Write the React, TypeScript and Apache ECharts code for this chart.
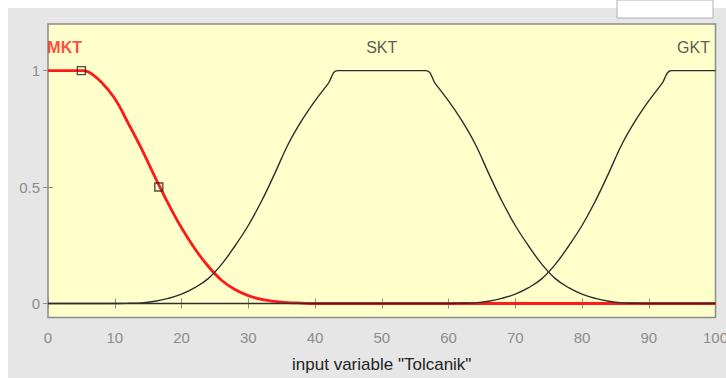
import React, { useEffect, useRef } from "react";
import * as echarts from "echarts";

// Membership functions of input variable "Tolcanik"
const xTicks = [0, 10, 20, 30, 40, 50, 60, 70, 80, 90, 100];
const yTicks = [0, 0.5, 1];

const mktX = [0, 2, 4, 5, 6, 8, 10, 12, 14, 16, 18, 20, 22, 24, 26, 28, 30, 32, 34, 36, 38, 40, 100];
const mktY = [1, 1, 1, 1, 0.995, 0.95, 0.88, 0.775, 0.665, 0.545, 0.43, 0.325, 0.235, 0.16, 0.1, 0.06, 0.034, 0.018, 0.009, 0.004, 0.002, 0, 0];

const sktX = [0, 10, 12, 14, 16, 18, 20, 22, 24, 26, 28, 30, 32, 34, 36, 38, 40, 42, 43.4, 56.6, 58, 60, 62, 64, 66, 68, 70, 72, 74, 76, 78, 80, 82, 84, 86, 88, 90, 100];
const sktY = [0, 0, 0.001, 0.003, 0.01, 0.022, 0.04, 0.068, 0.107, 0.168, 0.247, 0.335, 0.44, 0.56, 0.685, 0.785, 0.87, 0.945, 1, 1, 0.945, 0.87, 0.785, 0.685, 0.56, 0.44, 0.335, 0.247, 0.168, 0.107, 0.068, 0.04, 0.022, 0.01, 0.003, 0.001, 0, 0];

const gktX = [0, 60, 62, 64, 66, 68, 70, 72, 74, 76, 78, 80, 82, 84, 86, 88, 90, 92, 93.4, 100];
const gktY = [0, 0, 0.001, 0.003, 0.01, 0.022, 0.04, 0.068, 0.107, 0.168, 0.247, 0.335, 0.44, 0.56, 0.685, 0.785, 0.87, 0.945, 1, 1];

// parameter handles of the selected function (MKT)
const handleX = [5, 16.6];
const handleY = [1, 0.5];

const mfNames = ["MKT", "SKT", "GKT"];
const mfLabelX = [2.5, 50, 96.7];
const mfLabelY = 1.1;

const zip = (xs: number[], ys: number[]) => xs.map((x, i) => [x, ys[i]]);

export default function App() {
  const ref = useRef<HTMLDivElement>(null);

  useEffect(() => {
    if (!ref.current) return;
    const chart = echarts.init(ref.current, undefined, { renderer: "svg" });
    const font = "Liberation Sans, Arial, sans-serif";
    const tickColor = "#8c8c8c";

    const xAxisBase = {
      type: "value",
      min: xTicks[0],
      max: xTicks[xTicks.length - 1],
      interval: 10,
      axisLine: { show: false },
      axisTick: { show: true, inside: true, length: 5, lineStyle: { color: tickColor, width: 1 } },
      splitLine: { show: false },
    };
    const yAxisBase = {
      type: "value",
      min: -0.06,
      max: 1.2,
      axisLine: { show: false },
      axisTick: { show: true, inside: true, length: 5, customValues: yTicks, lineStyle: { color: tickColor, width: 1 } },
      splitLine: { show: false },
    };

    chart.setOption({
      animation: false,
      backgroundColor: "#ffffff",
      graphic: [
        { type: "rect", z: -10, shape: { x: 8, y: 8, width: 718, height: 370 }, style: { fill: "#e6e6e6" }, silent: true },
        { type: "rect", z: -9, shape: { x: 617, y: 0, width: 96, height: 18 }, style: { fill: "#ffffff", stroke: "#b0b0b0", lineWidth: 1 }, silent: true },
      ],
      grid: {
        left: 48,
        right: 10.5,
        top: 24,
        bottom: 60.5,
        outerBoundsMode: "none",
        containLabel: false,
        show: true,
        backgroundColor: "#ffffcc",
        borderColor: "#8c8c8c",
        borderWidth: 1.5,
      },
      xAxis: [
        {
          ...xAxisBase,
          position: "bottom",
          axisLabel: { color: "#8c8c8c", fontSize: 15, fontFamily: font, margin: 12 },
          name: 'input variable "Tolcanik"',
          nameLocation: "middle",
          nameGap: 38,
          nameTextStyle: { color: "#222222", fontSize: 17, fontFamily: font },
        },
        { ...xAxisBase, position: "top", axisLabel: { show: false } },
      ],
      yAxis: [
        {
          ...yAxisBase,
          position: "left",
          axisLabel: { color: "#8c8c8c", fontSize: 15, fontFamily: font, margin: 8, customValues: yTicks },
        },
        { ...yAxisBase, position: "right", axisLabel: { show: false } },
      ],
      series: [
        {
          type: "line",
          name: "MKT",
          data: zip(mktX, mktY),
          showSymbol: false,
          smooth: 0.4,
          lineStyle: { color: "#ff1a1a", width: 2.8 },
          z: 2,
        },
        {
          type: "line",
          name: "SKT",
          data: zip(sktX, sktY),
          showSymbol: false,
          smooth: 0.4,
          lineStyle: { color: "#2e2e2e", width: 1.4 },
          z: 3,
        },
        {
          type: "line",
          name: "GKT",
          data: zip(gktX, gktY),
          showSymbol: false,
          smooth: 0.4,
          lineStyle: { color: "#2e2e2e", width: 1.4 },
          z: 3,
        },
        {
          type: "scatter",
          data: zip(handleX, handleY),
          symbol: "rect",
          symbolSize: 8,
          itemStyle: { color: "rgba(0,0,0,0)", borderColor: "#222222", borderWidth: 1.4 },
          z: 4,
        },
        {
          type: "scatter",
          symbolSize: 0,
          data: mfNames.map((n, i) => ({
            value: [mfLabelX[i], mfLabelY],
            name: n,
            label: {
              color: i === 0 ? "#ff1a1a" : "#2e2e2e",
              fontWeight: i === 0 ? "bold" : "normal",
            },
          })),
          label: {
            show: true,
            position: "inside",
            formatter: (p: any) => p.name,
            fontFamily: font,
            fontSize: 16,
          },
          z: 5,
        },
      ],
    });

    return () => chart.dispose();
  }, []);

  return (
    <div
      ref={ref}
      style={{ position: "fixed", left: 0, top: 0, width: 726, height: 378 }}
    />
  );
}
